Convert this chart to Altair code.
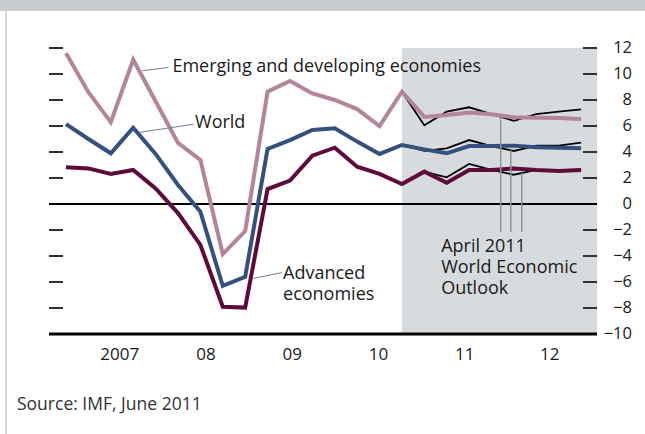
import altair as alt
import pandas as pd

# ---- data (quarterly, 2007Q1 .. 2012Q4, index 0..23) ----
quarter_index = list(range(24))
emerging = [11.6, 8.6, 6.3, 11.1, 7.9, 4.7, 3.4, -3.85, -2.08, 8.64, 9.46, 8.5,
            8.0, 7.3, 6.0, 8.64, 6.7, 6.85, 7.03, 6.9, 6.67, 6.64, 6.62, 6.54]
world = [6.15, 5.0, 3.9, 5.87, 3.85, 1.46, -0.59, -6.3, -5.6, 4.23, 4.92, 5.7,
         5.82, 4.8, 3.85, 4.54, 4.2, 3.9, 4.46, 4.46, 4.49, 4.36, 4.33, 4.28]
advanced = [2.82, 2.74, 2.31, 2.62, 1.2, -0.7, -3.15, -7.9, -7.97, 1.15, 1.8, 3.72,
            4.33, 2.87, 2.31, 1.54, 2.49, 1.64, 2.62, 2.62, 2.74, 2.62, 2.54, 2.62]

# April 2011 World Economic Outlook forecasts (from 2010Q4)
weo_index = list(range(15, 24))
weo_emerging = [8.64, 6.05, 7.1, 7.44, 6.92, 6.4, 6.92, 7.1, 7.28]
weo_world = [4.54, 4.08, 4.28, 4.92, 4.46, 4.08, 4.49, 4.49, 4.72]
weo_advanced = [1.54, 2.49, 2.05, 3.08, 2.62, 2.25, 2.62, 2.54, 2.67]

series_names = ["Emerging", "World", "Advanced"]
series_colors = ["#b3849a", "#34507e", "#5e0b3b"]

year_labels = ["2007", "08", "09", "10", "11", "12"]
year_label_pos = [2.4, 6.25, 10.1, 13.95, 17.8, 21.6]
y_labels = list(range(-10, 13, 2))
y_ticks = [12, 10, 8, 6, 4, 2, -2, -4, -6, -8]
forecast_start = 15

# annotations (first-line baseline positions)
ann_text = ["Emerging and developing economies", "World", "Advanced\neconomies",
            "April 2011\nWorld Economic\nOutlook"]
ann_x = [4.75, 5.76, 9.69, 16.75]
ann_y = [10.18, 5.81, -5.75, -3.67]

lead_x = [3.40, 3.31, 8.37]
lead_x2 = [4.57, 5.69, 9.64]
lead_y = [10.25, 5.52, -5.72]
lead_y2 = [10.5, 6.13, -5.28]

weo_lead_x = [19.41, 19.86, 20.35]
weo_lead_top = [6.71, 4.13, 2.38]
weo_lead_bottom = [-2.15, -2.15, -2.15]

# ---- frames ----
rows = []
for name, vals in zip(series_names, [emerging, world, advanced]):
    for q, v in zip(quarter_index, vals):
        rows.append({"series": name, "q": q, "v": v})
df = pd.DataFrame(rows)

wrows = []
for name, vals in zip(series_names, [weo_emerging, weo_world, weo_advanced]):
    for q, v in zip(weo_index, vals):
        wrows.append({"series": name, "q": q, "v": v})
wdf = pd.DataFrame(wrows)

W, H = 548, 286
xs = alt.Scale(domain=[-0.76, 23.71], nice=False, zero=False)
ys = alt.Scale(domain=[-10, 12], nice=False, zero=False)
FONT = "Open Sans"
TXT = "#1a1a1a"

shade = alt.Chart(pd.DataFrame({"x0": [forecast_start], "x1": [23.71],
                                "y0": [-10], "y1": [12]})).mark_rect(color="#d8dbde").encode(
    x=alt.X("x0:Q", scale=xs, axis=None), x2="x1:Q",
    y=alt.Y("y0:Q", scale=ys, axis=None), y2="y1:Q",
)

# y labels on the right
ylab = alt.Chart(pd.DataFrame({"v": y_labels})).mark_text(
    align="right", baseline="middle", font=FONT, fontSize=16.5, color=TXT).encode(
    y=alt.Y("v:Q", scale=ys, axis=None), x=alt.value(583), text="v:Q")

# year labels at the bottom
xlab = alt.Chart(pd.DataFrame({"p": year_label_pos, "t": year_labels})).mark_text(
    align="center", baseline="middle", font=FONT, fontSize=17, color=TXT).encode(
    x=alt.X("p:Q", scale=xs, axis=None), y=alt.value(H + 21), text="t:N")

tick_df = pd.DataFrame({"v": y_ticks})
left_ticks = alt.Chart(tick_df).mark_rule(color="#333333", strokeWidth=2).encode(
    y=alt.Y("v:Q", scale=ys, axis=None), x=alt.value(0), x2=alt.value(14))
right_ticks = alt.Chart(tick_df).mark_rule(color="#333333", strokeWidth=2).encode(
    y=alt.Y("v:Q", scale=ys, axis=None), x=alt.value(534), x2=alt.value(548))

zero_line = alt.Chart(pd.DataFrame({"v": [0]})).mark_rule(color="black", strokeWidth=2).encode(
    y=alt.Y("v:Q", scale=ys, axis=None), x=alt.value(0), x2=alt.value(W))
bottom_line = alt.Chart(pd.DataFrame({"v": [-10]})).mark_rule(color="black", strokeWidth=3).encode(
    y=alt.Y("v:Q", scale=ys, axis=None), x=alt.value(0), x2=alt.value(W))

weo_lines = alt.Chart(wdf).mark_line(color="black", strokeWidth=1.8).encode(
    x=alt.X("q:Q", scale=xs, axis=None), y=alt.Y("v:Q", scale=ys, axis=None), detail="series:N")

lines = alt.Chart(df).mark_line(strokeWidth=4).encode(
    x=alt.X("q:Q", scale=xs, axis=None), y=alt.Y("v:Q", scale=ys, axis=None),
    color=alt.Color("series:N", scale=alt.Scale(domain=series_names, range=series_colors), legend=None))

weo_leads = alt.Chart(pd.DataFrame({"x": weo_lead_x, "y": weo_lead_top, "y2": weo_lead_bottom})).mark_rule(
    color="#8c949c", strokeWidth=1.5).encode(
    x=alt.X("x:Q", scale=xs, axis=None), y=alt.Y("y:Q", scale=ys, axis=None), y2="y2:Q")

leads = alt.Chart(pd.DataFrame({"x": lead_x, "x2": lead_x2, "y": lead_y, "y2": lead_y2})).mark_rule(
    color="#6f8190", strokeWidth=1).encode(
    x=alt.X("x:Q", scale=xs, axis=None), x2="x2:Q",
    y=alt.Y("y:Q", scale=ys, axis=None), y2="y2:Q")

texts = alt.Chart(pd.DataFrame({"t": ann_text, "x": ann_x, "y": ann_y})).mark_text(
    align="left", baseline="alphabetic", font=FONT, fontSize=18, color=TXT,
    lineBreak="\n", lineHeight=21).encode(
    x=alt.X("x:Q", scale=xs, axis=None), y=alt.Y("y:Q", scale=ys, axis=None), text="t:N")

one = pd.DataFrame({"a": [0]})
top_band = alt.Chart(one).mark_rect(color="#c9ccd1").encode(
    x=alt.value(-49), x2=alt.value(596), y=alt.value(-48), y2=alt.value(-37))
left_border = alt.Chart(one).mark_rule(color="#c9ccd1", strokeWidth=1.5).encode(
    x=alt.value(-43), y=alt.value(-37), y2=alt.value(386))
source = alt.Chart(one).mark_text(align="left", baseline="middle", font=FONT, fontSize=17.5,
                                  color="#333333").encode(
    x=alt.value(-32), y=alt.value(357), text=alt.value("Source: IMF, June 2011"))

chart = alt.layer(
    shade, top_band, left_border, left_ticks, right_ticks, zero_line, bottom_line,
    weo_lines, lines, weo_leads, leads, texts, ylab, xlab, source
).properties(
    width=W, height=H,
    autosize=alt.AutoSizeParams(type="none"),
    padding={"left": 49, "top": 48, "right": 48, "bottom": 100},
    background="white",
).configure_view(strokeWidth=0)

chart.save("out.html", embed_options={"renderer": "svg", "actions": False})
